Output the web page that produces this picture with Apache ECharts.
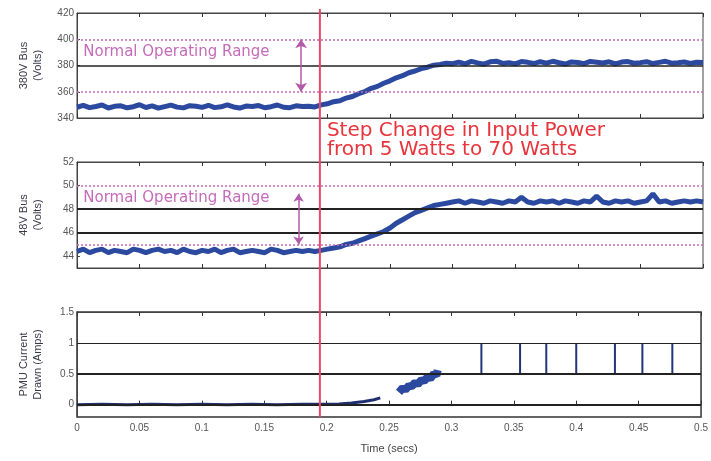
<!DOCTYPE html>
<html>
<head>
<meta charset="utf-8">
<script src="https://cdn.jsdelivr.net/npm/echarts@6/dist/echarts.min.js"></script>
<style>
html, body { margin: 0; padding: 0; background: #fff; }
#chart { width: 711px; height: 461px; }
</style>
</head>
<body>
<div id="chart"></div>
<script>
// samples are 5 ms apart, starting at t = 0
const sampleStep = 0.005

// 380V bus (Volts)
const bus380 = [
  348.2, 349.6, 347.9, 348.8, 349.9, 347.6, 348.9, 349.3, 347.8, 348.6,
  350.1, 348.0, 349.2, 347.5, 348.7, 349.8, 348.3, 347.7, 349.4, 348.9,
  348.1, 349.7, 347.9, 348.5, 350.0, 348.4, 347.6, 349.1, 348.8, 349.5,
  347.8, 348.6, 349.9, 348.2, 347.9, 349.3, 348.7, 349.0, 348.4,
  350.0, 350.8, 352.4, 353.1, 355.2, 356.4, 358.5, 360.2, 362.6, 364.1,
  366.5, 368.3, 370.6, 372.2, 374.5, 375.8, 377.6, 378.7, 380.2, 380.8,
  381.7, 381.4,
  382.6, 381.3, 383.1, 382.0, 381.0, 382.8, 383.3, 381.6, 382.2, 381.2,
  383.0, 382.4, 381.5, 382.9, 381.8, 383.2, 382.1, 381.1, 382.7, 382.3,
  381.4, 383.1, 382.5, 381.9, 382.8, 381.3, 382.6, 383.0, 381.7, 382.2,
  382.9, 381.5, 382.4, 383.2, 381.8, 382.1, 382.7, 381.6, 382.5, 382.3
]

// 48V bus (Volts)
const bus48 = [
  44.4, 44.6, 44.3, 44.5, 44.6, 44.3, 44.5, 44.4, 44.3, 44.6,
  44.5, 44.3, 44.5, 44.6, 44.4, 44.5, 44.3, 44.6, 44.4, 44.3,
  44.5, 44.4, 44.6, 44.3, 44.5, 44.6, 44.3, 44.4, 44.5, 44.4,
  44.3, 44.6, 44.5, 44.3, 44.4, 44.5, 44.4, 44.5, 44.4,
  44.5, 44.6, 44.7, 44.8, 45.0, 45.1, 45.3, 45.5, 45.7, 45.9,
  46.1, 46.4, 46.8, 47.1, 47.4, 47.7, 47.9, 48.1, 48.3, 48.4,
  48.5, 48.6,
  48.7, 48.5, 48.7, 48.6, 48.5, 48.7, 48.6, 48.5, 48.7, 48.6,
  49.0, 48.6, 48.5, 48.7, 48.6, 48.7, 48.5, 48.7, 48.6, 48.5,
  48.7, 48.6, 49.1, 48.6, 48.5, 48.7, 48.6, 48.7, 48.5, 48.6,
  48.7, 49.3, 48.6, 48.7, 48.5, 48.6, 48.7, 48.6, 48.7, 48.6
]

// PMU current drawn (Amps)
const pmuTime = [0, 0.02, 0.04, 0.06, 0.08, 0.1, 0.12, 0.14, 0.16, 0.18, 0.2, 0.21, 0.22, 0.23, 0.238, 0.243]
const pmuAmps = [0.0, 0.005, 0.0, 0.005, 0.0, 0.005, 0.0, 0.005, 0.0, 0.005, 0.005, 0.01, 0.025, 0.05, 0.08, 0.11]
const rampTime = [0.258, 0.261, 0.263, 0.266, 0.268, 0.271, 0.273, 0.276, 0.278, 0.281, 0.283, 0.286, 0.288, 0.289]
const rampAmps = [0.2, 0.27, 0.24, 0.31, 0.29, 0.36, 0.33, 0.4, 0.38, 0.45, 0.42, 0.5, 0.47, 0.56]
const spikeTimes = [0.324, 0.355, 0.376, 0.4, 0.431, 0.453, 0.477]
const spikeLow = 0.5
const spikeHigh = 1

const stepTime = 0.194
const rangeArrow380 = [0.179, 400, 360]
const rangeArrow48 = [0.177, 49.3, 45]

const blue = '#2b4a9f'
const pink = '#c56bb9'
const textGray = '#555'

const chart = echarts.init(document.getElementById('chart'))

const pinkDot = { color: pink, type: [2, 2], width: 1.5 }
const blackLine = (w) => ({ color: '#222', type: 'solid', width: w })
const arrowLine = { color: '#b35aa9', type: 'solid', width: 1.5 }

function xAxes(i) {
  let base = {
    gridIndex: i, type: 'value', min: 0, max: 0.5, interval: 0.05,
    axisLine: { show: true, lineStyle: { color: '#444', width: 1 } },
    axisTick: { show: true, inside: true, length: 4, lineStyle: { color: '#333' } },
    splitLine: { show: false }
  }
  return [
    Object.assign({}, base, {
      position: 'bottom',
      axisLabel: { show: i === 2, color: textGray, fontSize: 10, fontFamily: 'Liberation Sans', margin: 6 },
      name: i === 2 ? 'Time (secs)' : '',
      nameLocation: 'middle', nameGap: 26,
      nameTextStyle: { color: '#444', fontSize: 11, fontFamily: 'Liberation Sans' }
    }),
    Object.assign({}, base, { position: 'top', axisLabel: { show: false } })
  ]
}

function yAxis(i, name, min, max, ticks) {
  return {
    gridIndex: i, type: 'value', min: min, max: max,
    name: name, nameLocation: 'middle', nameRotate: 90, nameGap: 32,
    nameTextStyle: { color: '#3a3a4a', fontSize: 11, fontFamily: 'Liberation Sans', lineHeight: 14 },
    axisLine: { show: true, lineStyle: { color: '#444' } },
    axisTick: { show: true, inside: true, length: 3, customValues: ticks },
    axisLabel: { color: textGray, fontSize: 10, fontFamily: 'Liberation Sans', margin: 3, customValues: ticks },
    splitLine: { show: false }
  }
}

const timed = (vals) => vals.map((v, i) => [+(i * sampleStep).toFixed(3), v])

let spikeData = []
spikeTimes.forEach(t => {
  spikeData.push([t, spikeLow], [t, spikeHigh], [t, null])
})

let option = {
  animation: false,
  grid: [
    { left: 77, right: 8, top: 13, height: 105, show: true, borderColor: '#444', borderWidth: 1 },
    { left: 77, right: 8, top: 162, height: 106, show: true, borderColor: '#444', borderWidth: 1 },
    { left: 77, right: 8, top: 312, height: 105, show: true, borderColor: '#333', borderWidth: 1.5 }
  ],
  xAxis: [].concat(xAxes(0), xAxes(1), xAxes(2)),
  yAxis: [
    yAxis(0, '380V Bus\n(Volts)', 340, 420, [340, 360, 380, 400, 420]),
    yAxis(1, '48V Bus\n(Volts)', 43, 52, [44, 46, 48, 50, 52]),
    yAxis(2, 'PMU Current\nDrawn (Amps)', -0.2, 1.5, [0, 0.5, 1, 1.5])
  ],
  series: [
    {
      type: 'line', xAxisIndex: 0, yAxisIndex: 0, data: timed(bus380),
      showSymbol: false, lineStyle: { color: blue, width: 5 },
      markLine: {
        silent: true, symbol: 'none', label: { show: false },
        data: [
          { yAxis: 400, lineStyle: pinkDot },
          { yAxis: 360, lineStyle: pinkDot },
          { yAxis: 380, lineStyle: blackLine(1.5) },
          [
            { coord: [rangeArrow380[0], rangeArrow380[1]], symbol: 'arrow', symbolSize: 9, lineStyle: arrowLine },
            { coord: [rangeArrow380[0], rangeArrow380[2]], symbol: 'arrow', symbolSize: 9 }
          ]
        ]
      }
    },
    {
      type: 'line', xAxisIndex: 2, yAxisIndex: 1, data: timed(bus48),
      showSymbol: false, lineStyle: { color: blue, width: 5 },
      markLine: {
        silent: true, symbol: 'none', label: { show: false },
        data: [
          { yAxis: 50, lineStyle: pinkDot },
          { yAxis: 45, lineStyle: pinkDot },
          { yAxis: 48, lineStyle: blackLine(2) },
          { yAxis: 46, lineStyle: blackLine(2) },
          [
            { coord: [rangeArrow48[0], rangeArrow48[1]], symbol: 'arrow', symbolSize: 8, lineStyle: arrowLine },
            { coord: [rangeArrow48[0], rangeArrow48[2]], symbol: 'arrow', symbolSize: 8 }
          ]
        ]
      }
    },
    {
      type: 'line', xAxisIndex: 4, yAxisIndex: 2,
      data: pmuTime.map((t, i) => [t, pmuAmps[i]]),
      showSymbol: false, lineStyle: { color: '#1e2f72', width: 3 },
      markLine: {
        silent: true, symbol: 'none', label: { show: false },
        data: [
          { yAxis: 1, lineStyle: blackLine(1) },
          { yAxis: 0.5, lineStyle: blackLine(2) },
          { yAxis: 0, lineStyle: blackLine(2) }
        ]
      }
    },
    {
      type: 'line', xAxisIndex: 4, yAxisIndex: 2,
      data: rampTime.map((t, i) => [t, rampAmps[i]]),
      showSymbol: false, lineStyle: { color: blue, width: 8 }
    },
    {
      type: 'line', xAxisIndex: 4, yAxisIndex: 2, data: spikeData,
      showSymbol: false, connectNulls: false, lineStyle: { color: '#22357a', width: 2 }
    }
  ]
}

chart.setOption(option)

// annotations placed through the axes' own scales
const stepX = chart.convertToPixel({ xAxisIndex: 0 }, stepTime)
const topY = chart.convertToPixel({ yAxisIndex: 0 }, 420) - 4
const botY = chart.convertToPixel({ yAxisIndex: 2 }, -0.2)
const textX = chart.convertToPixel({ xAxisIndex: 0 }, 0.005)
const range380Y = chart.convertToPixel({ yAxisIndex: 0 }, 390)
const range48Y = chart.convertToPixel({ yAxisIndex: 1 }, 48.9)
const stepTextY = chart.convertToPixel({ yAxisIndex: 0 }, 340) + 3

chart.setOption({
  graphic: [
    {
      type: 'line', z: 100, silent: true,
      shape: { x1: stepX, y1: topY, x2: stepX, y2: botY },
      style: { stroke: '#e8486a', lineWidth: 2 }
    },
    {
      type: 'text', x: textX, y: range380Y, silent: true,
      style: { text: 'Normal Operating Range', fill: pink, font: '15px "DejaVu Sans"', textVerticalAlign: 'middle' }
    },
    {
      type: 'text', x: textX, y: range48Y, silent: true,
      style: { text: 'Normal Operating Range', fill: pink, font: '15px "DejaVu Sans"', textVerticalAlign: 'middle' }
    },
    {
      type: 'text', x: stepX + 7, y: stepTextY, silent: true,
      style: {
        text: 'Step Change in Input Power\nfrom 5 Watts to 70 Watts',
        fill: '#e8343c', font: '20px "DejaVu Sans"', lineHeight: 19
      }
    }
  ]
})
</script>
</body>
</html>
